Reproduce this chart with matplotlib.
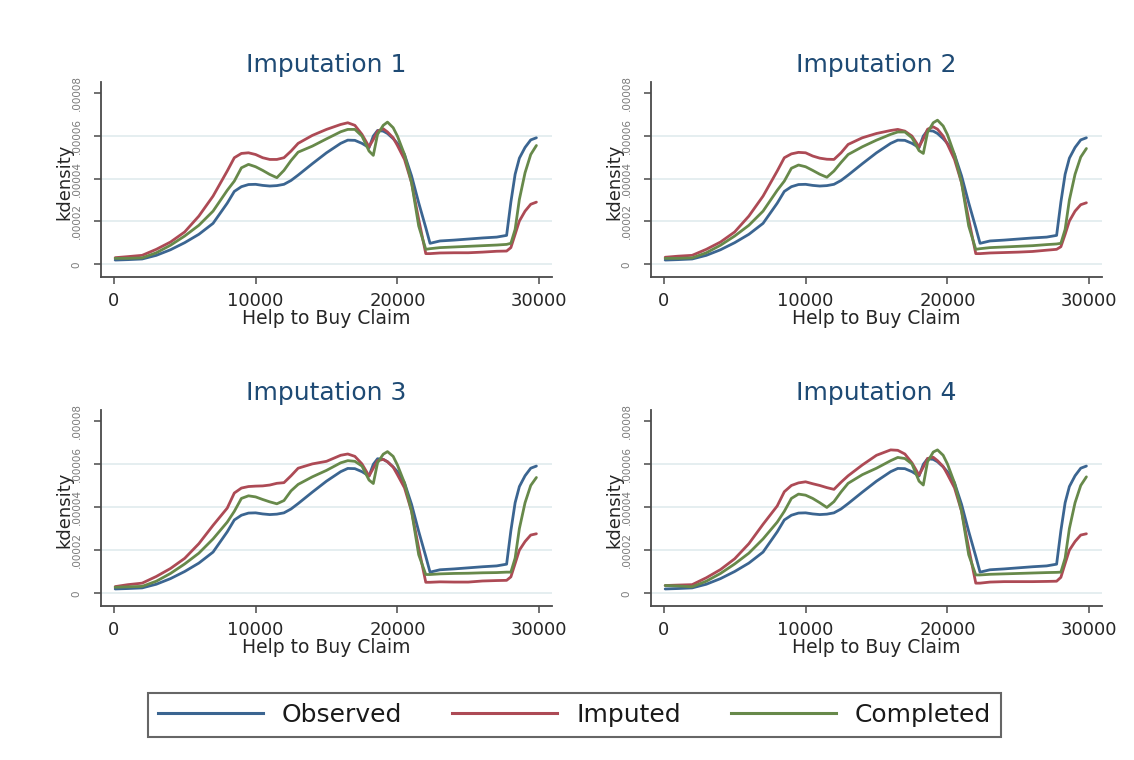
import numpy as np
import matplotlib
matplotlib.use("Agg")
import matplotlib.pyplot as plt
from matplotlib.lines import Line2D

# ---------------- data (density values in units of 1e-5) ----------------
claim = [100, 1000, 2000, 3000, 4000, 5000, 6000, 7000, 8000, 8500, 9000, 9500,
         10000, 10500, 11000, 11500, 12000, 12500, 13000, 14000, 15000, 16000,
         16500, 17000, 17500, 18000, 18300, 18600, 19000, 19300, 19700, 20000,
         20500, 21000, 21500, 22000, 22300, 23000, 24000, 25000, 26000, 27000,
         27700, 28000, 28300, 28600, 29000, 29400, 29800]

observed = [0.20, 0.22, 0.25, 0.42, 0.68, 1.01, 1.40, 1.91, 2.85, 3.40, 3.62, 3.72,
            3.73, 3.68, 3.65, 3.67, 3.73, 3.91, 4.16, 4.69, 5.20, 5.64,
            5.79, 5.78, 5.64, 5.44, 5.98, 6.24, 6.21, 6.10, 5.86, 5.64,
            5.12, 4.12, 2.87, 1.71, 0.98, 1.09, 1.13, 1.18, 1.23, 1.27,
            1.35, 2.90, 4.20, 4.95, 5.45, 5.80, 5.90]

imputed_1 = [0.31, 0.36, 0.42, 0.70, 1.04, 1.51, 2.25, 3.18, 4.35, 4.97, 5.17, 5.20,
             5.12, 4.97, 4.89, 4.89, 4.97, 5.28, 5.64, 6.01, 6.29, 6.52,
             6.60, 6.48, 6.06, 5.48, 5.82, 6.21, 6.32, 6.17, 5.90, 5.54,
             4.89, 3.80, 2.10, 0.50, 0.50, 0.53, 0.54, 0.54, 0.57, 0.61,
             0.62, 0.78, 1.40, 2.02, 2.48, 2.80, 2.90]
completed_1 = [0.28, 0.28, 0.30, 0.54, 0.89, 1.32, 1.82, 2.48, 3.45, 3.88, 4.50, 4.66,
               4.55, 4.38, 4.19, 4.04, 4.38, 4.84, 5.23, 5.51, 5.85, 6.18,
               6.29, 6.29, 5.98, 5.28, 5.08, 6.06, 6.48, 6.63, 6.37, 5.98,
               5.12, 3.80, 1.79, 0.70, 0.73, 0.78, 0.81, 0.84, 0.87, 0.90,
               0.93, 0.98, 1.63, 3.03, 4.27, 5.12, 5.54]

imputed_2 = [0.33, 0.38, 0.42, 0.70, 1.04, 1.51, 2.25, 3.18, 4.35, 4.97, 5.15, 5.22,
             5.20, 5.05, 4.95, 4.90, 4.89, 5.20, 5.59, 5.90, 6.10, 6.24,
             6.29, 6.21, 5.98, 5.48, 5.85, 6.30, 6.41, 6.30, 5.98, 5.60,
             4.89, 3.80, 2.10, 0.50, 0.50, 0.53, 0.55, 0.57, 0.60, 0.66,
             0.70, 0.82, 1.40, 2.02, 2.48, 2.78, 2.87]
completed_2 = [0.28, 0.28, 0.30, 0.54, 0.89, 1.32, 1.82, 2.48, 3.45, 3.88, 4.48, 4.63,
               4.55, 4.38, 4.20, 4.06, 4.35, 4.75, 5.12, 5.48, 5.79, 6.06,
               6.17, 6.17, 5.90, 5.30, 5.17, 6.15, 6.60, 6.72, 6.45, 6.05,
               5.12, 3.80, 1.79, 0.70, 0.73, 0.78, 0.81, 0.84, 0.87, 0.92,
               0.95, 0.98, 1.63, 3.00, 4.20, 5.00, 5.40]

imputed_3 = [0.31, 0.40, 0.47, 0.78, 1.15, 1.62, 2.30, 3.15, 3.95, 4.65, 4.88, 4.95,
             4.97, 4.98, 5.02, 5.10, 5.13, 5.45, 5.80, 6.00, 6.12, 6.40,
             6.46, 6.35, 6.00, 5.44, 5.80, 6.15, 6.21, 6.10, 5.85, 5.50,
             4.89, 3.80, 2.10, 0.51, 0.51, 0.53, 0.52, 0.52, 0.57, 0.59,
             0.60, 0.76, 1.38, 2.00, 2.40, 2.70, 2.76]
completed_3 = [0.28, 0.30, 0.32, 0.56, 0.92, 1.36, 1.86, 2.52, 3.30, 3.80, 4.40, 4.52,
               4.47, 4.35, 4.24, 4.15, 4.30, 4.75, 5.05, 5.40, 5.70, 6.05,
               6.15, 6.12, 5.90, 5.25, 5.09, 6.05, 6.45, 6.57, 6.35, 5.95,
               5.12, 3.80, 1.79, 0.87, 0.87, 0.90, 0.92, 0.93, 0.95, 0.96,
               0.98, 0.98, 1.63, 3.00, 4.20, 5.00, 5.37]

imputed_4 = [0.36, 0.38, 0.40, 0.72, 1.10, 1.60, 2.30, 3.20, 4.05, 4.71, 5.00, 5.12,
             5.17, 5.08, 5.00, 4.90, 4.82, 5.15, 5.45, 5.95, 6.40, 6.65,
             6.63, 6.46, 6.05, 5.48, 5.85, 6.25, 6.31, 6.15, 5.88, 5.52,
             4.89, 3.80, 2.10, 0.47, 0.47, 0.52, 0.54, 0.54, 0.54, 0.55,
             0.56, 0.74, 1.38, 2.00, 2.40, 2.70, 2.76]
completed_4 = [0.36, 0.34, 0.30, 0.56, 0.92, 1.36, 1.86, 2.52, 3.30, 3.80, 4.40, 4.60,
               4.55, 4.40, 4.20, 3.98, 4.25, 4.70, 5.10, 5.50, 5.80, 6.15,
               6.30, 6.25, 6.00, 5.20, 5.02, 6.10, 6.55, 6.65, 6.40, 6.00,
               5.12, 3.80, 1.79, 0.85, 0.85, 0.88, 0.90, 0.92, 0.94, 0.96,
               0.97, 0.98, 1.63, 3.00, 4.20, 5.00, 5.40]

panel_titles = ["Imputation 1", "Imputation 2", "Imputation 3", "Imputation 4"]
imputed_sets = [imputed_1, imputed_2, imputed_3, imputed_4]
completed_sets = [completed_1, completed_2, completed_3, completed_4]
series_names = ["Observed", "Imputed", "Completed"]

x_ticks = [0, 10000, 20000, 30000]
x_tick_labels = ["0", "10000", "20000", "30000"]
y_ticks = [0, 2e-5, 4e-5, 6e-5, 8e-5]
y_tick_labels = ["0", ".00002", ".00004", ".00006", ".00008"]
UNIT = 1e-5

# ---------------- styling ----------------
colors = ["#3b6591", "#ad4a55", "#67894a"]
title_color = "#1e4a74"
grid_color = "#e3edef"
axis_color = "#4a4a4a"

plt.rcParams["font.family"] = ["DejaVu Sans"]

fig = plt.figure(figsize=(11.34, 7.60), dpi=100)
fig.patch.set_facecolor("white")

W, H = 1134.0, 760.0
# pixel boxes: (left, top, right, bottom)
boxes = [(101, 82, 552, 277), (651, 82, 1102, 277),
         (101, 410, 552, 606), (651, 410, 1102, 606)]

x_arr = np.array(claim, dtype=float)
for i, (l, t, r, b) in enumerate(boxes):
    ax = fig.add_axes([l / W, 1 - b / H, (r - l) / W, (b - t) / H])
    ax.set_facecolor("white")
    for v in y_ticks[:-1]:
        ax.axhline(v, color=grid_color, lw=1.3, zorder=0)
    ys = [observed, imputed_sets[i], completed_sets[i]]
    for y, c in zip(ys, colors):
        ax.plot(x_arr, np.array(y) * UNIT, color=c, lw=2.0, zorder=3,
                solid_joinstyle="round", solid_capstyle="round")
    ax.set_xlim(-900, 30900)
    ax.set_ylim(-5.9e-6, 8.5e-5)
    for s in ["top", "right"]:
        ax.spines[s].set_visible(False)
    for s in ["left", "bottom"]:
        ax.spines[s].set_color(axis_color)
        ax.spines[s].set_linewidth(1.3)
    ax.set_xticks(x_ticks)
    ax.set_xticklabels(x_tick_labels)
    ax.set_yticks(y_ticks)
    ax.set_yticklabels(y_tick_labels)
    ax.tick_params(axis="x", length=5, width=1.1, color=axis_color,
                   labelsize=13, labelcolor="#262626", pad=6)
    ax.tick_params(axis="y", length=5, width=1.1, color=axis_color,
                   labelsize=7.5, labelcolor="#7a7a7a", pad=9, labelrotation=90)
    for lab in ax.get_yticklabels():
        lab.set_va("center")
        lab.set_ha("right")
    ax.set_xlabel("Help to Buy Claim", fontsize=13.5, color="#262626")
    ax.xaxis.set_label_coords(0.5, -0.165)
    ax.set_ylabel("kdensity", fontsize=13, color="#262626")
    ax.yaxis.set_label_coords(-0.062, 0.49)
    ax.text(0.5, 1.087, panel_titles[i], transform=ax.transAxes,
            ha="center", va="center", fontsize=18, color=title_color)

handles = [Line2D([0], [0], color=c, lw=2.2) for c in colors]
leg = fig.legend(handles, series_names, loc="center",
                 bbox_to_anchor=(574.5 / W, 1 - 715 / H), ncol=3,
                 fontsize=18, frameon=True, fancybox=False,
                 handlelength=4.2, handletextpad=0.76, columnspacing=2.0,
                 borderpad=0.4)
leg.get_frame().set_edgecolor("#404040")
leg.get_frame().set_linewidth(1.5)
for txt in leg.get_texts():
    txt.set_color("#1a1a1a")

fig.savefig("out.png", dpi=100, facecolor="white")
